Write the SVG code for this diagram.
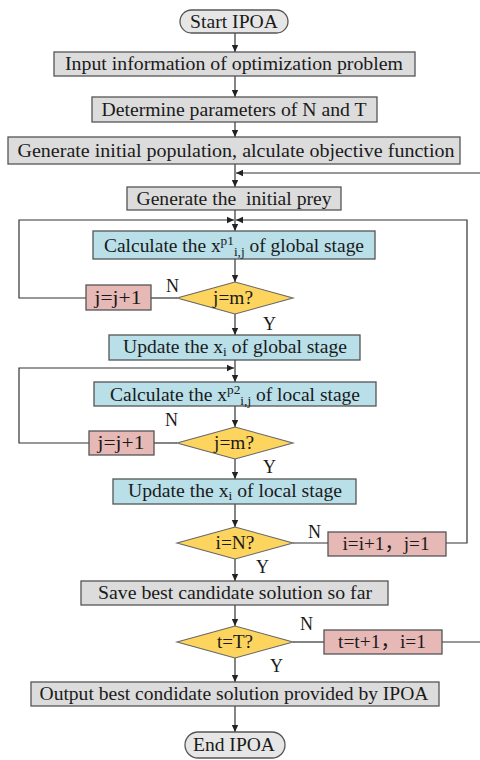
<svg xmlns="http://www.w3.org/2000/svg" width="480" height="760" viewBox="0 0 480 760">
<defs>
<marker id="ah" markerWidth="8" markerHeight="8" refX="7" refY="4" orient="auto" markerUnits="userSpaceOnUse">
<path d="M0,0.8 L7,4 L0,7.2 Z" fill="#222"/>
</marker>
<style>
text{font-family:"Liberation Serif","Noto Sans CJK SC",serif;font-size:19px;fill:#1a1a1a;text-anchor:middle}
.lbl{font-size:18px;text-anchor:start}
.g{fill:#dcdcdc;stroke:#555;stroke-width:1.3}
.b{fill:#b9dfe9;stroke:#555;stroke-width:1.3}
.y{fill:#fcd45e;stroke:#666;stroke-width:1.1}
.p{fill:#e6b8b6;stroke:#555;stroke-width:1.3}
.t{fill:#e6e6e6;stroke:#555;stroke-width:1.3}
.c line,.c polyline{stroke:#333;stroke-width:1.2;fill:none}
.a{marker-end:url(#ah)}
.s{font-size:13px}
</style>
</defs>
<rect width="480" height="760" fill="#fff"/>

<g class="c" id="connectors">
<line class="a" x1="235" y1="33" x2="235" y2="52"/>
<line class="a" x1="235" y1="76" x2="235" y2="97"/>
<line class="a" x1="235" y1="122" x2="235" y2="137"/>
<line class="a" x1="235" y1="164" x2="235" y2="187"/>
<line class="a" x1="480" y1="173" x2="236" y2="173"/>
<line class="a" x1="235" y1="210" x2="235" y2="231"/>
<polyline class="a" points="86,298 19,298 19,220 234,220"/>
<polyline class="a" points="446,543 467,543 467,220 236,220"/>
<line class="a" x1="235" y1="259" x2="235" y2="282"/>
<line x1="177" y1="298" x2="151" y2="298"/>
<line class="a" x1="235" y1="314" x2="235" y2="335"/>
<line class="a" x1="235" y1="360" x2="235" y2="382"/>
<polyline class="a" points="89,443 19,443 19,368 234,368"/>
<line class="a" x1="235" y1="406" x2="235" y2="427"/>
<line x1="177" y1="443" x2="154" y2="443"/>
<line class="a" x1="235" y1="459" x2="235" y2="479"/>
<line class="a" x1="235" y1="504" x2="235" y2="527"/>
<line x1="293" y1="543" x2="328" y2="543"/>
<line class="a" x1="235" y1="559" x2="235" y2="581"/>
<line class="a" x1="235" y1="605" x2="235" y2="626"/>
<line x1="293" y1="642" x2="324" y2="642"/>
<line x1="442" y1="642" x2="480" y2="642"/>
<line class="a" x1="235" y1="658" x2="235" y2="682"/>
<line class="a" x1="235" y1="706" x2="235" y2="732"/>
</g>

<g id="labels">
<text class="lbl" x="166" y="292">N</text>
<text class="lbl" x="263" y="330">Y</text>
<text class="lbl" x="165" y="426">N</text>
<text class="lbl" x="263" y="473">Y</text>
<text class="lbl" x="308" y="538">N</text>
<text class="lbl" x="256" y="573">Y</text>
<text class="lbl" x="300" y="630">N</text>
<text class="lbl" x="270" y="672">Y</text>
</g>

<g id="start"><rect class="t" x="180" y="10" width="108" height="23" rx="11.5"/><text x="234" y="28" textLength="88" lengthAdjust="spacingAndGlyphs">Start IPOA</text></g>
<g id="input"><rect class="g" x="54" y="52" width="361" height="24"/><text x="234" y="70" textLength="338" lengthAdjust="spacingAndGlyphs">Input information of optimization problem</text></g>
<g id="params"><rect class="g" x="92" y="97" width="285" height="25"/><text x="234" y="116" textLength="265" lengthAdjust="spacingAndGlyphs">Determine parameters of N and T</text></g>
<g id="genpop"><rect class="g" x="8" y="137" width="452" height="27"/><text x="236" y="157" textLength="437" lengthAdjust="spacingAndGlyphs">Generate initial population, alculate objective function</text></g>
<g id="prey"><rect class="g" x="127" y="187" width="214" height="23"/><text x="234" y="205" textLength="195" lengthAdjust="spacingAndGlyphs" xml:space="preserve">Generate the  initial prey</text></g>
<g id="calcglobal"><rect class="b" x="93" y="231" width="282" height="28"/><text x="234" y="252" textLength="260" lengthAdjust="spacingAndGlyphs">Calculate the x<tspan class="s" dy="-7">p1</tspan><tspan class="s" dy="11">i,j</tspan><tspan dy="-4"> of global stage</tspan></text></g>
<g id="dec1"><polygon class="y" points="177,298 235,282 293,298 235,314"/><text x="233" y="304" textLength="40" lengthAdjust="spacingAndGlyphs">j=m?</text></g>
<g id="inc1"><rect class="p" x="86" y="285" width="65" height="25"/><text x="118" y="304" textLength="47" lengthAdjust="spacingAndGlyphs">j=j+1</text></g>
<g id="updglobal"><rect class="b" x="109" y="335" width="251" height="25"/><text x="235" y="353" textLength="224" lengthAdjust="spacingAndGlyphs">Update the x<tspan class="s" dy="3">i</tspan><tspan dy="-3"> of global stage</tspan></text></g>
<g id="calclocal"><rect class="b" x="94" y="382" width="282" height="24"/><text x="235" y="401" textLength="250" lengthAdjust="spacingAndGlyphs">Calculate the x<tspan class="s" dy="-7">p2</tspan><tspan class="s" dy="11">i,j</tspan><tspan dy="-4"> of local stage</tspan></text></g>
<g id="dec2"><polygon class="y" points="177,443 235,427 293,443 235,459"/><text x="234" y="449" textLength="40" lengthAdjust="spacingAndGlyphs">j=m?</text></g>
<g id="inc2"><rect class="p" x="89" y="431" width="65" height="24"/><text x="121" y="449" textLength="47" lengthAdjust="spacingAndGlyphs">j=j+1</text></g>
<g id="updlocal"><rect class="b" x="113" y="479" width="243" height="25"/><text x="235" y="497" textLength="214" lengthAdjust="spacingAndGlyphs">Update the x<tspan class="s" dy="3">i</tspan><tspan dy="-3"> of local stage</tspan></text></g>
<g id="dec3"><polygon class="y" points="177,543 235,527 293,543 235,559"/><text x="235" y="549" textLength="39" lengthAdjust="spacingAndGlyphs">i=N?</text></g>
<g id="inci"><rect class="p" x="328" y="532" width="118" height="24"/><text x="386" y="550" textLength="87" lengthAdjust="spacingAndGlyphs">i=i+1，j=1</text></g>
<g id="save"><rect class="g" x="81" y="581" width="307" height="24"/><text x="235" y="599" textLength="274" lengthAdjust="spacingAndGlyphs">Save best candidate solution so far</text></g>
<g id="dec4"><polygon class="y" points="177,642 235,626 293,642 235,658"/><text x="235" y="648" textLength="36" lengthAdjust="spacingAndGlyphs">t=T?</text></g>
<g id="inct"><rect class="p" x="324" y="630" width="118" height="24"/><text x="382" y="648" textLength="88" lengthAdjust="spacingAndGlyphs">t=t+1，i=1</text></g>
<g id="output"><rect class="g" x="31" y="682" width="408" height="24"/><text x="234" y="700" textLength="389" lengthAdjust="spacingAndGlyphs">Output best condidate solution provided by IPOA</text></g>
<g id="end"><rect class="t" x="185" y="732" width="100" height="26" rx="13"/><text x="234" y="751" textLength="82" lengthAdjust="spacingAndGlyphs">End IPOA</text></g>
</svg>
